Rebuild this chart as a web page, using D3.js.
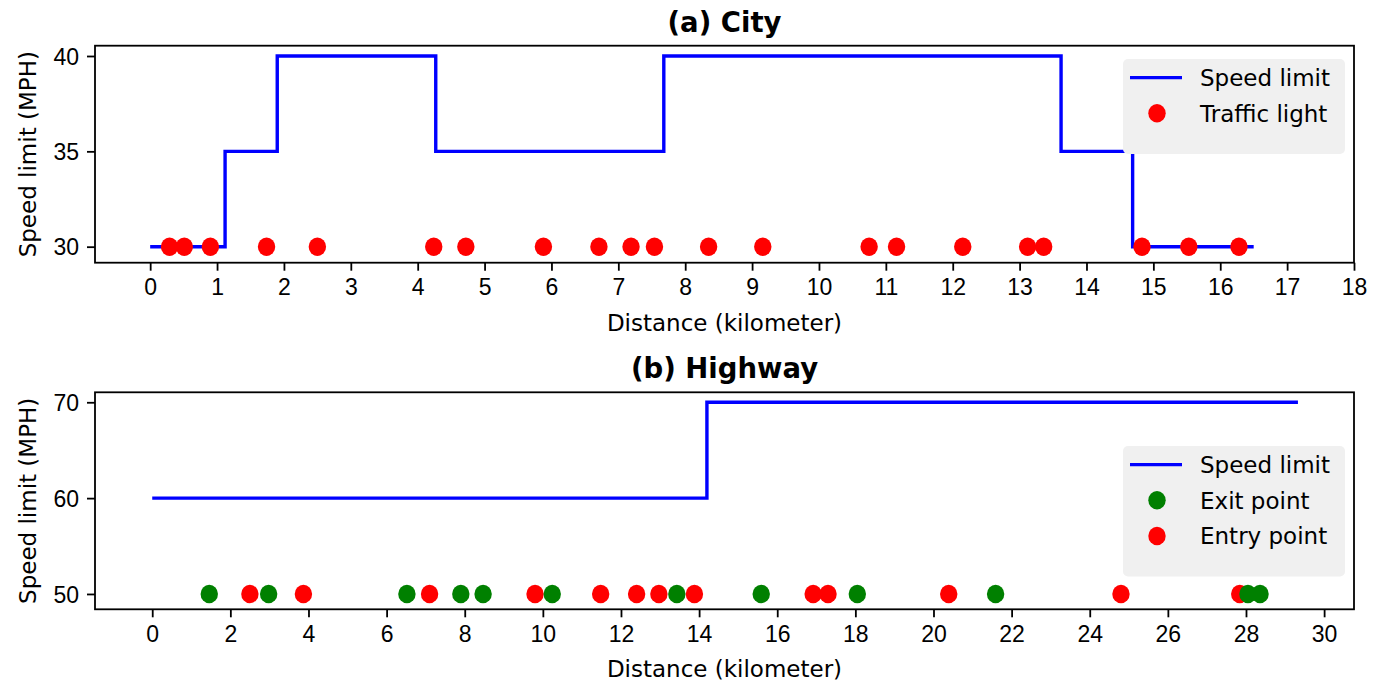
<!DOCTYPE html>
<html>
<head>
<meta charset="utf-8">
<script src="https://cdn.jsdelivr.net/npm/d3@7"></script>
<style>
    body { margin: 0; background: #fff; }
    svg { display: block; font-family: "DejaVu Sans", sans-serif; }
    .tick text { font-size: 23px; fill: #000; }
    .tick line { stroke: #000; stroke-width: 1.8px; }
    .domain { display: none; }
</style>
</head>
<body>
<svg id="chart"></svg>
<script>
// (a) City - speed limit steps (km where each limit starts) and traffic lights
var cityStepKm = [0, 1.12, 1.9, 4.27, 7.68, 13.62, 14.69, 16.5];
var citySpeed = [30, 35, 40, 35, 40, 35, 30, 30];
var cityLightKm = [0.29, 0.51, 0.9, 1.74, 2.5, 4.24, 4.72, 5.88, 6.71, 7.19, 7.54, 8.35, 9.16,
                   10.75, 11.16, 12.15, 13.12, 13.36, 14.83, 15.53, 16.28];
var cityXTicks = [0, 1, 2, 3, 4, 5, 6, 7, 8, 9, 10, 11, 12, 13, 14, 15, 16, 17, 18];
var cityYTicks = [30, 35, 40];

// (b) Highway
var highwayStepKm = [0, 14.2, 29.33];
var highwaySpeed = [60, 70, 70];
var highwayExitKm = [1.46, 2.98, 6.52, 7.9, 8.47, 10.24, 13.43, 15.59, 18.05, 21.59, 28.05, 28.36];
var highwayEntryKm = [2.5, 3.87, 7.1, 9.8, 11.48, 12.4, 12.97, 13.88, 16.92, 17.3, 20.39, 24.8, 27.84];
var highwayXTicks = [0, 2, 4, 6, 8, 10, 12, 14, 16, 18, 20, 22, 24, 26, 28, 30];
var highwayYTicks = [50, 60, 70];

var svgWidth = 1373;
var svgHeight = 683;
var pointY = {30: 30, 50: 50};

var svg = d3.select('#chart')
    .attr('width', svgWidth)
    .attr('height', svgHeight);

//畫一個子圖
var drawPanel = function(opt){
    var xScale = d3.scaleLinear().domain(opt.xDomain).range([95, 1354]);
    var yScale = d3.scaleLinear().domain(opt.yDomain).range([opt.bottom, opt.top]);
    var g = svg.append('g');

    // x axis
    g.append('g')
        .attr('transform', 'translate(0,' + opt.bottom + ')')
        .call(d3.axisBottom(xScale).tickValues(opt.xTicks).tickSize(8).tickPadding(8).tickFormat(d3.format('d')));
    // y axis
    g.append('g')
        .attr('transform', 'translate(95,0)')
        .call(d3.axisLeft(yScale).tickValues(opt.yTicks).tickSize(8).tickPadding(8).tickFormat(d3.format('d')))
        .selectAll('text').attr('dy', '0.36em');

    // step line
    var line = d3.line()
        .x(function(d){ return xScale(d[0]); })
        .y(function(d){ return yScale(d[1]); })
        .curve(d3.curveStepAfter);
    g.append('path')
        .datum(d3.zip(opt.stepKm, opt.speed))
        .attr('fill', 'none')
        .attr('stroke', '#0000ff')
        .attr('stroke-width', 3.4)
        .attr('d', line);

    // points, drawn in order of distance
    g.selectAll('.pt')
        .data(opt.points)
        .enter()
        .append('ellipse')
        .attr('class', 'pt')
        .attr('cx', function(d){ return xScale(d.km); })
        .attr('cy', yScale(opt.pointSpeed))
        .attr('rx', 8.7)
        .attr('ry', 9.2)
        .attr('fill', function(d){ return d.color; });

    // frame
    g.append('rect')
        .attr('x', 95).attr('y', opt.top)
        .attr('width', 1354 - 95).attr('height', opt.bottom - opt.top)
        .attr('fill', 'none').attr('stroke', '#000').attr('stroke-width', 1.8);

    // title and labels
    g.append('text')
        .attr('x', 724.5).attr('y', opt.top - 14)
        .attr('text-anchor', 'middle')
        .style('font-size', '27.5px').style('font-weight', 'bold')
        .text(opt.title);
    g.append('text')
        .attr('x', 724.5).attr('y', opt.bottom + 68)
        .attr('text-anchor', 'middle')
        .style('font-size', '23px')
        .text('Distance (kilometer)');
    g.append('text')
        .attr('transform', 'translate(36,' + ((opt.top + opt.bottom) / 2) + ') rotate(-90)')
        .attr('text-anchor', 'middle')
        .style('font-size', '23px')
        .text('Speed limit (MPH)');

    // legend
    var lg = g.append('g').attr('transform', 'translate(1123,' + opt.legendTop + ')');
    lg.append('rect')
        .attr('width', 222).attr('height', 24 + 35.5 * opt.legend.length)
        .attr('rx', 5)
        .attr('fill', '#f0f0f0');
    opt.legend.forEach(function(item, i){
        var cy = 18.6 + i * 35.7;
        if(item.type == 'line'){
            lg.append('line')
                .attr('x1', 7).attr('x2', 59).attr('y1', cy).attr('y2', cy)
                .attr('stroke', item.color).attr('stroke-width', 3.4);
        }
        else{
            lg.append('ellipse')
                .attr('cx', 34).attr('cy', cy).attr('rx', 8.7).attr('ry', 9.2)
                .attr('fill', item.color);
        }
        lg.append('text')
            .attr('x', 77).attr('y', cy).attr('dy', '0.36em')
            .style('font-size', '23px')
            .text(item.label);
    });
};

var cityPoints = cityLightKm.map(function(k){ return {km: k, color: '#ff0000'}; });

var highwayPoints = highwayExitKm.map(function(k){ return {km: k, color: '#008000'}; })
    .concat(highwayEntryKm.map(function(k){ return {km: k, color: '#ff0000'}; }))
    .sort(function(a, b){ return a.km - b.km; });

drawPanel({
    title: '(a) City',
    top: 45.7, bottom: 262.7,
    xDomain: [-0.825, 18], yDomain: [29.16, 40.54],
    xTicks: cityXTicks, yTicks: cityYTicks,
    stepKm: cityStepKm, speed: citySpeed,
    points: cityPoints, pointSpeed: pointY[30],
    legendTop: 59,
    legend: [
        {type: 'line', color: '#0000ff', label: 'Speed limit'},
        {type: 'dot', color: '#ff0000', label: 'Traffic light'}
    ]
});

drawPanel({
    title: '(b) Highway',
    top: 392.3, bottom: 609.3,
    xDomain: [-1.465, 30.765], yDomain: [48.4, 71.04],
    xTicks: highwayXTicks, yTicks: highwayYTicks,
    stepKm: highwayStepKm, speed: highwaySpeed,
    points: highwayPoints, pointSpeed: pointY[50],
    legendTop: 446,
    legend: [
        {type: 'line', color: '#0000ff', label: 'Speed limit'},
        {type: 'dot', color: '#008000', label: 'Exit point'},
        {type: 'dot', color: '#ff0000', label: 'Entry point'}
    ]
});
</script>
</body>
</html>
